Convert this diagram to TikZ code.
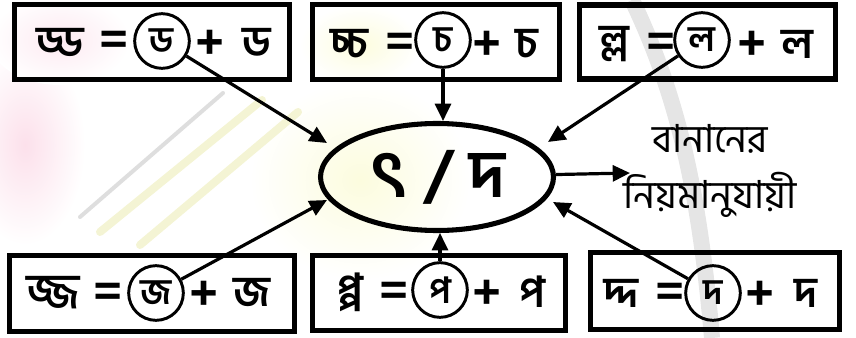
\documentclass[tikz,border=0pt]{standalone}
\usepackage{fontspec}
\newfontfamily\bn[Script=Bengali]{Hind Siliguri}
\usetikzlibrary{arrows.meta,shapes.geometric}
\definecolor{washpink}{RGB}{252,224,235}
\definecolor{washyellow}{RGB}{252,252,222}
\definecolor{stripegray}{RGB}{222,222,222}
\definecolor{stripeyellow}{RGB}{244,244,212}
\begin{document}
\begin{tikzpicture}[x=0.75pt,y=-0.75pt,
  frame/.style={draw=black, line width=3.8pt, rectangle, inner sep=0pt},
  ring/.style={draw=black, line width=2.2pt, circle, minimum size=41pt, inner sep=0pt,
    font=\bn\bfseries\fontsize{27}{27}\selectfont},
  lbl/.style={inner sep=0pt, anchor=center, font=\bn\bfseries\fontsize{32}{32}\selectfont},
  sym/.style={inner sep=0pt, anchor=center, font=\bn\bfseries\fontsize{38}{38}\selectfont},
  conn/.style={line width=2.4pt, -{Triangle[length=13pt,width=12pt]}},
]
\useasboundingbox (0,0) rectangle (856,338);
% background washes
\shade[inner color=washpink, outer color=white] (25,145) ellipse (60 and 100);
\shade[inner color=washpink!70, outer color=white] (60,40) ellipse (70 and 45);
\shade[inner color=washyellow, outer color=white] (360,180) ellipse (110 and 100);
\shade[inner color=washyellow, outer color=white] (360,45) ellipse (60 and 40);
\draw[stripegray, line width=3pt, line cap=round] (80,217) -- (223,93);
\draw[stripeyellow, line width=6pt, line cap=round] (100,232) -- (262,100);
\draw[stripeyellow, line width=6pt, line cap=round] (140,245) -- (298,112);
\draw[stripegray, line width=12pt, opacity=.8] (632,0) .. controls (680,100) and (700,200) .. (712,338);
% frames
\node[frame, minimum width=206.25pt, minimum height=56.25pt] (b1) at (152,42) {};
\node[frame, minimum width=185.25pt, minimum height=56.25pt] (b2) at (436,42) {};
\node[frame, minimum width=192pt, minimum height=55.5pt] (b3) at (707.5,42) {};
\node[frame, minimum width=213.75pt, minimum height=57pt] (b4) at (152,293.5) {};
\node[frame, minimum width=189.75pt, minimum height=56.25pt] (b5) at (439,293) {};
\node[frame, minimum width=186.75pt, minimum height=57.75pt] (b6) at (715,291) {};
% top-left
\node[lbl] (a1) at (60,42) {ড্ড};
\node[sym] (e1) at (114,44) {=};
\node[ring] (c1) at (162,41) {ড};
\node[sym] (p1) at (210,45) {+};
\node[lbl] (r1) at (257,42) {ড};
% top-middle
\node[lbl] (a2) at (349,44) {চ্চ};
\node[sym] (e2) at (400,46) {=};
\node[ring] (c2) at (443,40) {চ};
\node[sym] (p2) at (487,46) {+};
\node[lbl] (r2) at (527,44) {চ};
% top-right
\node[lbl] (a3) at (614,44) {ল্ল};
\node[sym] (e3) at (661,46) {=};
\node[ring] (c3) at (702,40) {ল};
\node[sym] (p3) at (752,46) {+};
\node[lbl] (r3) at (797,44) {ল};
% bottom-left
\node[lbl] (a4) at (53,293) {জ্জ};
\node[sym] (e4) at (108,296) {=};
\node[ring] (c4) at (156,293) {জ};
\node[sym] (p4) at (204,296) {+};
\node[lbl] (r4) at (252,293) {জ};
% bottom-middle
\node[lbl] (a5) at (350,292) {প্প};
\node[sym] (e5) at (394,295) {=};
\node[ring] (c5) at (440,290) {প};
\node[sym] (p5) at (487,295) {+};
\node[lbl] (r5) at (532,292) {প};
% bottom-right
\node[lbl] (a6) at (621,293) {দ্দ};
\node[sym] (e6) at (670,296) {=};
\node[ring] (c6) at (713,293) {দ};
\node[sym] (p6) at (760,296) {+};
\node[lbl] (r6) at (806,293) {দ};
% centre
\node[ellipse, draw=black, line width=3.8pt, minimum width=174.75pt, minimum height=80.25pt,
  inner sep=0pt, font=\bn\bfseries\fontsize{50}{50}\selectfont] (ell) at (437,177) {ৎ / দ};
\node[align=center, inner sep=0pt, font=\bn\fontsize{29}{42}\selectfont] (rule) at (710,171)
  {বানানের\\নিয়মানুযায়ী};
% tips
\coordinate (tTL) at (327,143);
\coordinate (tTM) at (443,121);
\coordinate (tTR) at (548,142);
\coordinate (tBL) at (327,200);
\coordinate (tBM) at (440,233);
\coordinate (tBR) at (553,202);
\coordinate (out) at (630,173);
\draw[conn] (c1) -- (tTL);
\draw[conn] (c2) -- (tTM);
\draw[conn] (c3) -- (tTR);
\draw[conn] (c4) -- (tBL);
\draw[conn] (c5) -- (tBM);
\draw[conn] (c6) -- (tBR);
\draw[conn] (ell) -- (out);
\end{tikzpicture}
\end{document}
